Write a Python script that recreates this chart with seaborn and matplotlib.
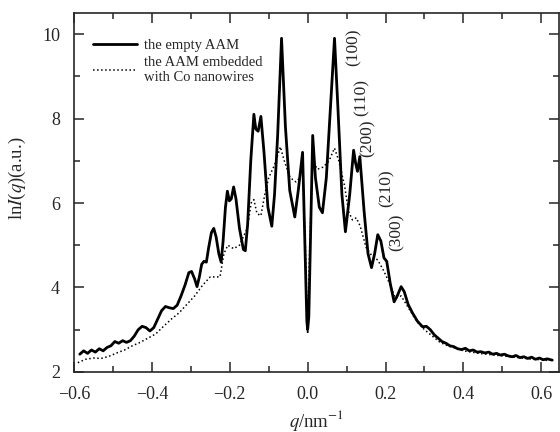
import matplotlib
matplotlib.use("Agg")
from matplotlib import pyplot as plt
from matplotlib.ticker import MultipleLocator
import seaborn as sns

# empty AAM (solid)
q_empty = [-0.585, -0.575, -0.565, -0.555, -0.545, -0.535, -0.525, -0.515, -0.505, -0.495,
           -0.485, -0.475, -0.465, -0.455, -0.445, -0.435, -0.425, -0.415, -0.405, -0.395,
           -0.385, -0.375, -0.365, -0.355, -0.345, -0.335, -0.325, -0.315, -0.305, -0.298,
           -0.290, -0.284, -0.278, -0.272, -0.266, -0.260, -0.254, -0.247, -0.241, -0.235,
           -0.228, -0.222, -0.217, -0.211, -0.206, -0.201, -0.196, -0.190, -0.184, -0.175,
           -0.165, -0.160, -0.154, -0.146, -0.138, -0.133, -0.127, -0.120, -0.112, -0.102,
           -0.092, -0.085, -0.077, -0.067, -0.057, -0.046, -0.033, -0.024, -0.013, -0.007,
           -0.002, 0.0, 0.003, 0.008, 0.013, 0.020, 0.030, 0.038, 0.048, 0.060,
           0.069, 0.078, 0.088, 0.097, 0.108, 0.118, 0.123, 0.128, 0.134, 0.145,
           0.155, 0.164, 0.172, 0.180, 0.188, 0.196, 0.203, 0.212, 0.222, 0.230,
           0.240, 0.248, 0.258, 0.269, 0.282, 0.295, 0.305, 0.315, 0.325, 0.335,
           0.345, 0.355, 0.365, 0.375, 0.385, 0.395, 0.405, 0.415, 0.425, 0.435,
           0.445, 0.455, 0.465, 0.475, 0.485, 0.495, 0.505, 0.515, 0.525, 0.535,
           0.545, 0.555, 0.565, 0.575, 0.585, 0.595, 0.605, 0.615, 0.628]
lnI_empty = [2.42, 2.50, 2.44, 2.52, 2.47, 2.55, 2.50, 2.58, 2.62, 2.72,
             2.68, 2.74, 2.70, 2.74, 2.85, 3.00, 3.08, 3.05, 2.97, 3.05,
             3.25, 3.45, 3.55, 3.52, 3.50, 3.58, 3.80, 4.05, 4.35, 4.38,
             4.20, 4.02, 4.25, 4.55, 4.62, 4.60, 4.95, 5.30, 5.40, 5.20,
             4.80, 4.60, 5.10, 5.90, 6.28, 6.05, 6.10, 6.38, 6.10, 5.40,
             4.90, 4.87, 5.50, 7.00, 8.10, 7.75, 7.70, 8.05, 7.20, 5.90,
             5.45, 6.20, 7.60, 9.90, 7.80, 6.30, 5.67, 6.30, 7.20, 5.00,
             3.20, 3.00, 3.30, 5.50, 7.60, 6.60, 5.90, 5.77, 6.60, 8.50,
             9.90, 8.20, 6.20, 5.32, 6.20, 7.25, 6.95, 6.75, 7.10, 5.80,
             4.80, 4.47, 4.80, 5.25, 5.10, 4.70, 4.62, 4.10, 3.66, 3.80,
             4.02, 3.90, 3.60, 3.40, 3.20, 3.07, 3.08, 3.00, 2.88, 2.80,
             2.72, 2.68, 2.62, 2.60, 2.55, 2.53, 2.56, 2.50, 2.52, 2.47,
             2.48, 2.45, 2.47, 2.42, 2.44, 2.40, 2.42, 2.38, 2.36, 2.39,
             2.34, 2.36, 2.32, 2.35, 2.30, 2.33, 2.29, 2.31, 2.28]

# AAM embedded with Co nanowires (dotted)
q_co = [-0.590, -0.570, -0.550, -0.530, -0.510, -0.490, -0.470, -0.450, -0.430, -0.410,
        -0.390, -0.370, -0.350, -0.330, -0.310, -0.290, -0.270, -0.250, -0.235, -0.225,
        -0.215, -0.205, -0.190, -0.175, -0.165, -0.155, -0.145, -0.138, -0.130, -0.120,
        -0.110, -0.100, -0.085, -0.070, -0.060, -0.045, -0.030, -0.020, -0.013, -0.006,
        0.0, 0.006, 0.013, 0.025, 0.040, 0.055, 0.069, 0.080, 0.095, 0.105,
        0.115, 0.125, 0.135, 0.150, 0.165, 0.180, 0.195, 0.210, 0.225, 0.240,
        0.260, 0.280, 0.300, 0.320, 0.340, 0.360, 0.380, 0.400, 0.420, 0.440,
        0.460, 0.480, 0.500, 0.520, 0.540, 0.560, 0.580, 0.600, 0.620]
lnI_co = [2.22, 2.30, 2.33, 2.32, 2.37, 2.45, 2.52, 2.62, 2.70, 2.80,
          2.90, 3.08, 3.25, 3.40, 3.60, 3.80, 4.05, 4.25, 4.25, 4.25,
          4.80, 5.00, 4.92, 5.00, 5.20, 5.40, 6.00, 6.08, 5.75, 5.70,
          6.20, 6.60, 6.90, 7.33, 7.00, 6.60, 6.50, 6.60, 6.90, 5.00,
          2.90, 5.20, 7.00, 6.80, 6.85, 7.00, 7.30, 7.00, 6.40, 5.80,
          5.60, 5.65, 5.45, 4.95, 4.75, 4.65, 4.40, 4.10, 3.75, 3.80,
          3.50, 3.20, 3.00, 2.85, 2.70, 2.62, 2.56, 2.50, 2.47, 2.44,
          2.42, 2.40, 2.38, 2.36, 2.34, 2.32, 2.30, 2.29, 2.27]

peak_labels = ["(100)", "(110)", "(200)", "(210)", "(300)"]
peak_q = [0.119, 0.139, 0.153, 0.203, 0.228]
peak_y = [9.69, 8.51, 7.54, 6.36, 5.30]

sns.set_style("ticks")
plt.rcParams["font.family"] = ["Liberation Serif", "DejaVu Serif"]
plt.rcParams["mathtext.fontset"] = "stix"

fig = plt.figure(figsize=(5.6, 4.32), dpi=100)
ax = fig.add_axes([0.132, 0.139, 0.866, 0.831])

sns.lineplot(x=q_empty, y=lnI_empty, sort=False, estimator=None, ax=ax,
             color="black", linewidth=2.0, label="the empty AAM")
sns.lineplot(x=q_co, y=lnI_co, sort=False, estimator=None, ax=ax,
             color="black", linewidth=1.1, linestyle=":",
             label="the AAM embedded\nwith Co nanowires")

for lab, xq, yv in zip(peak_labels, peak_q, peak_y):
    ax.text(xq, yv, lab, rotation=90, ha="center", va="center", fontsize=12.5)

ax.set_xlim(-0.6, 0.645)
ax.set_ylim(2, 10.5)
ax.xaxis.set_major_locator(MultipleLocator(0.2))
ax.xaxis.set_minor_locator(MultipleLocator(0.1))
ax.yaxis.set_major_locator(MultipleLocator(2))
ax.yaxis.set_minor_locator(MultipleLocator(1))
ax.tick_params(which="both", direction="in", top=True, right=True, width=1.1,
               labelsize=13, pad=10)
ax.tick_params(which="major", length=7)
ax.tick_params(which="minor", length=4)
for s in ax.spines.values():
    s.set_linewidth(1.2)

ax.set_xlabel(r"$q$/nm$^{-1}$", fontsize=13.5, labelpad=4)
ax.set_ylabel(r"ln$I$($q$)(a.u.)", fontsize=13.5)
ax.yaxis.set_label_coords(-0.094, 0.54)

ax.legend(loc="upper left", bbox_to_anchor=(0.027, 0.945), frameon=False, fontsize=10.5,
          handlelength=3.0, handletextpad=0.5, labelspacing=0.3, borderaxespad=0)

fig.savefig("out.png", dpi=100)
